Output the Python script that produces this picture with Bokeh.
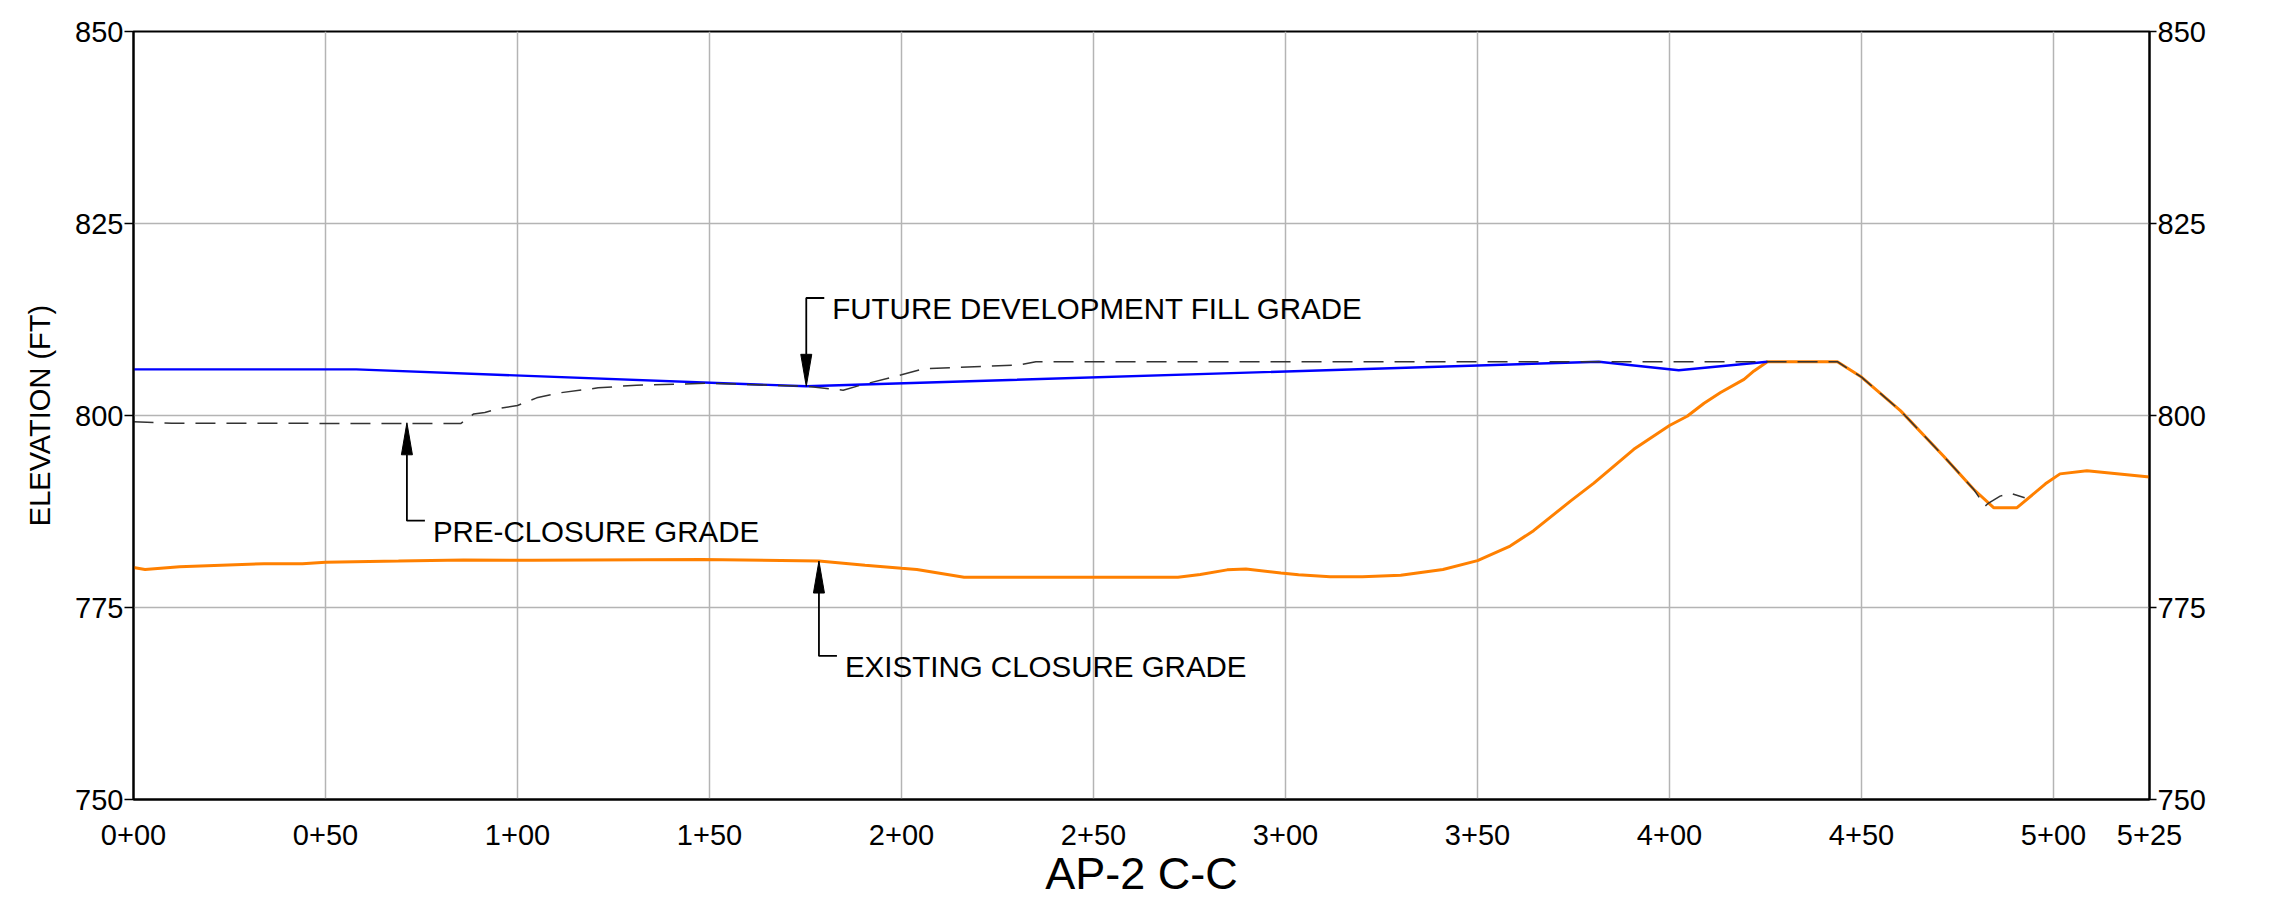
import math
from bokeh.plotting import figure
from bokeh.models import FixedTicker, LinearAxis, Range1d, Label
from bokeh.core.properties import value
from bokeh.embed import file_html
from bokeh.resources import INLINE

# ---------------- data ----------------
station_ticks = [0, 50, 100, 150, 200, 250, 300, 350, 400, 450, 500, 525]
station_labels = ["0+00", "0+50", "1+00", "1+50", "2+00", "2+50", "3+00",
                  "3+50", "4+00", "4+50", "5+00", "5+25"]
grid_stations = [50, 100, 150, 200, 250, 300, 350, 400, 450, 500]
elev_ticks = [750, 775, 800, 825, 850]
grid_elevs = [775, 800, 825]

# existing closure grade (orange)
existing_x = [0, 3, 12, 34, 44, 50, 69, 86, 104, 148, 178.5, 190.5, 200, 204, 216.3,
              272, 277.8, 284.8, 289.7, 298.8, 303.4, 311.6, 320, 330, 341, 350,
              358.5, 364.6, 374.2, 380.3, 390.7, 400, 404.6, 409, 413.3, 419.4, 422,
              425.5, 443.7, 450, 460.2, 471.4, 479.2, 484.4, 490.5, 497.9, 501.7,
              508.7, 525]
existing_y = [780.2, 779.95, 780.3, 780.7, 780.7, 780.9, 781.05, 781.2, 781.15, 781.25,
              781.05, 780.5, 780.1, 779.95, 778.95,
              778.95, 779.3, 779.9, 780.0, 779.5, 779.25, 779.0, 779.0, 779.2, 779.95, 781.1,
              783.0, 785.0, 788.85, 791.2, 795.6, 798.7, 799.9, 801.6, 803.0, 804.7, 805.8,
              807.0, 807.0, 805.0, 800.6, 794.7, 790.4, 788.0, 788.0, 791.1, 792.4,
              792.8, 792.0]

# future development fill grade (blue)
future_x = [0, 58, 175.2, 381.6, 402.4, 425.5]
future_y = [806.0, 806.0, 803.8, 807.0, 805.9, 807.0]

# pre-closure grade (dashed)
pre_x = [0, 10, 85.2, 88.6, 91.5, 95, 100, 105, 111, 121, 131, 150, 175.2, 184.8,
         189, 200, 206, 231, 235, 443.7, 450, 460.2, 471.4, 479.2, 482.2, 483.1,
         486.1, 488.7, 492.5]
pre_y = [799.2, 799.0, 798.95, 800.2, 800.4, 800.9, 801.3, 802.3, 802.95, 803.6, 803.95,
         804.2, 803.8, 803.3, 803.9, 805.3, 806.1, 806.6, 807.0, 807.0, 805.0, 800.6,
         794.7, 790.4, 788.2, 788.6, 789.5, 789.9, 789.3]

# call-outs
callout_text = ["FUTURE DEVELOPMENT FILL GRADE", "PRE-CLOSURE GRADE", "EXISTING CLOSURE GRADE"]
callout_station = [175.2, 71.2, 178.5]
callout_tip = [803.8, 799.05, 781.05]
callout_elbow = [815.3, 786.3, 768.7]

# ---------------- figure ----------------
W, H = 2286, 910
ML, MR, MT, MB = 133, 137, 31, 111
FONT = "Liberation Sans"

p = figure(width=W, height=H, x_range=Range1d(0, 525), y_range=Range1d(750, 850),
           output_backend="svg", toolbar_location=None,
           min_border_left=ML, min_border_right=MR, min_border_top=MT, min_border_bottom=MB)
p.background_fill_color = "white"
p.border_fill_color = "white"
p.outline_line_color = "black"
p.outline_line_width = 2

frame_w = W - ML - MR
frame_h = H - MT - MB
px_x = frame_w / 525.0
px_y = frame_h / 100.0

# grids
p.xgrid.ticker = FixedTicker(ticks=grid_stations)
p.ygrid.ticker = FixedTicker(ticks=grid_elevs)
for g in (p.xgrid, p.ygrid):
    g.grid_line_color = "#b4b4b4"
    g.grid_line_width = 1.5

# x axis
xa = p.xaxis[0]
xa.ticker = FixedTicker(ticks=station_ticks)
xa.major_label_overrides = {t: l for t, l in zip(station_ticks, station_labels)}
xa.major_tick_line_color = None
xa.minor_tick_line_color = None
xa.axis_line_color = "black"
xa.axis_line_width = 2
xa.major_label_text_font = FONT
xa.major_label_text_font_size = "29px"
xa.major_label_text_color = "black"
xa.major_label_standoff = 19
xa.axis_label = "AP-2 C-C"
xa.axis_label_text_font = FONT
xa.axis_label_text_font_size = "45px"
xa.axis_label_text_font_style = "normal"
xa.axis_label_text_color = "black"
xa.axis_label_standoff = 0

# left y axis
ya = p.yaxis[0]
ya.ticker = FixedTicker(ticks=elev_ticks)
ya.minor_tick_line_color = None
ya.major_tick_out = 9
ya.major_tick_in = 0
ya.major_tick_line_color = "black"
ya.major_tick_line_width = 1.5
ya.axis_line_color = "black"
ya.axis_line_width = 2
ya.major_label_text_font = FONT
ya.major_label_text_font_size = "29px"
ya.major_label_text_color = "black"
ya.major_label_standoff = 1
ya.axis_label = "ELEVATION (FT)"
ya.axis_label_text_font = FONT
ya.axis_label_text_font_size = "29px"
ya.axis_label_text_font_style = "normal"
ya.axis_label_text_color = "black"
ya.axis_label_standoff = 16

# right y axis
ra = LinearAxis(ticker=FixedTicker(ticks=elev_ticks))
ra.minor_tick_line_color = None
ra.major_tick_out = 7
ra.major_tick_in = 0
ra.major_tick_line_color = "black"
ra.major_tick_line_width = 1.5
ra.axis_line_color = "black"
ra.axis_line_width = 2
ra.major_label_text_font = FONT
ra.major_label_text_font_size = "29px"
ra.major_label_text_color = "black"
ra.major_label_standoff = 1
p.add_layout(ra, "right")

rlab = Label(x=525, y=800, x_offset=101, text="ELEVATION (FT)", angle=math.pi / 2,
             text_align="center", text_baseline="middle", text_font=FONT,
             text_font_size="29px", text_color="black")
p.add_layout(rlab)

# ---------------- series ----------------
p.line(existing_x, existing_y, line_color="#ff8000", line_width=3)
p.line(future_x, future_y, line_color="#0000ff", line_width=2.4)
p.line(pre_x, pre_y, line_color="#333333", line_width=1.5, line_dash="20 11")

# ---------------- call-outs ----------------
head_len_y = 32 / px_y
head_half_x = 5.5 / px_x
lead_len_x = 18 / px_x
lx, ly, hx, hy = [], [], [], []
for s, tip, elb in zip(callout_station, callout_tip, callout_elbow):
    d = 1 if tip > elb else -1
    base = tip - d * head_len_y
    lx.append([s, s, s + lead_len_x])
    ly.append([base, elb, elb])
    hx.append([s - head_half_x, s, s + head_half_x])
    hy.append([base, tip, base])
p.multi_line(lx, ly, line_color="black", line_width=1.8)
p.patches(hx, hy, fill_color="black", line_color="black", line_width=1)
p.text(x=callout_station, y=callout_elbow, text=callout_text, x_offset=26, y_offset=10.5,
       text_font=value(FONT), text_font_size="29.5px", text_color="black",
       text_align="left", text_baseline="alphabetic")

open("out.html", "w").write(file_html(p, INLINE))
